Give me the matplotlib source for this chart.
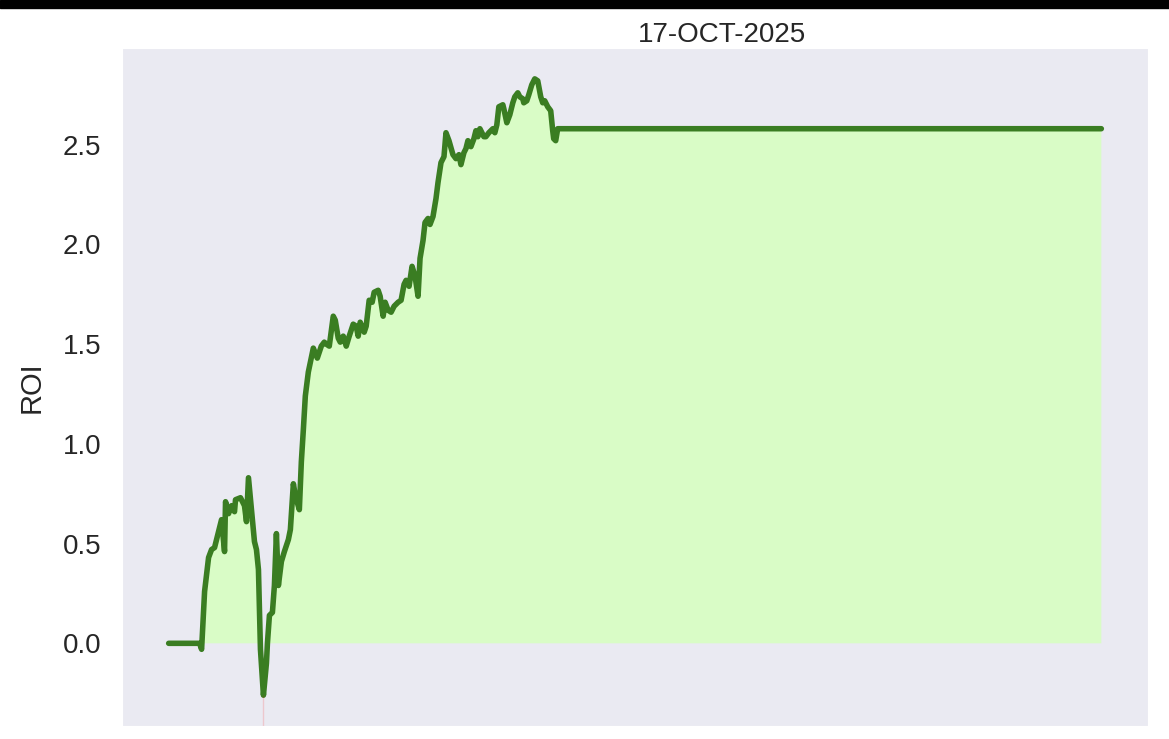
import matplotlib
matplotlib.use('Agg')
import matplotlib.pyplot as plt
import seaborn as sns
import numpy as np
from matplotlib.patches import Rectangle

title = "17-OCT-2025"

# step index of each trade and the running ROI
steps = [0, 31, 33, 35, 36, 40, 43, 46, 50, 53,
         56, 57, 60, 63, 66, 67, 72, 76, 78, 80,
         83, 86, 88, 90, 92, 95, 98, 99, 101, 104,
         106, 108, 110, 113, 116, 120, 122, 125, 127, 131,
         133, 135, 137, 140, 145, 149, 153, 156, 158, 161,
         165, 167, 170, 172, 175, 178, 181, 185, 188, 190,
         192, 196, 198, 201, 204, 206, 210, 212, 215, 217,
         220, 223, 226, 230, 233, 236, 238, 241, 244, 247,
         250, 252, 255, 257, 260, 262, 265, 268, 270, 273,
         276, 278, 281, 285, 288, 291, 293, 296, 298, 300,
         303, 306, 308, 310, 312, 316, 318, 321, 325, 327,
         329, 331, 335, 336, 339, 342, 345, 347, 350, 352,
         355, 356, 359, 361, 364, 367, 370, 373, 375, 377,
         380, 383, 385, 386, 388, 390, 935]
roi = [0.0, 0.0, -0.03, 0.17, 0.26, 0.43, 0.47, 0.48, 0.56, 0.62,
       0.46, 0.71, 0.65, 0.69, 0.66, 0.72, 0.73, 0.69, 0.61, 0.83,
       0.67, 0.51, 0.47, 0.37, -0.03, -0.26, -0.10, 0.0, 0.14, 0.155,
       0.29, 0.55, 0.29, 0.41, 0.46, 0.52, 0.57, 0.80, 0.74, 0.67,
       0.91, 1.07, 1.24, 1.36, 1.48, 1.43, 1.49, 1.51, 1.50, 1.49,
       1.64, 1.62, 1.53, 1.51, 1.54, 1.49, 1.54, 1.60, 1.59, 1.54,
       1.61, 1.56, 1.59, 1.72, 1.71, 1.76, 1.77, 1.74, 1.64, 1.71,
       1.67, 1.66, 1.69, 1.71, 1.72, 1.80, 1.82, 1.79, 1.89, 1.84,
       1.74, 1.93, 2.02, 2.11, 2.13, 2.10, 2.14, 2.23, 2.31, 2.41,
       2.44, 2.56, 2.52, 2.45, 2.43, 2.45, 2.40, 2.46, 2.48, 2.52,
       2.49, 2.53, 2.57, 2.54, 2.58, 2.54, 2.54, 2.56, 2.58, 2.56,
       2.60, 2.69, 2.70, 2.68, 2.61, 2.65, 2.71, 2.74, 2.76, 2.74,
       2.73, 2.71, 2.72, 2.75, 2.80, 2.83, 2.82, 2.74, 2.71, 2.72,
       2.69, 2.67, 2.57, 2.53, 2.52, 2.58, 2.58]

sns.set_style("dark")
plt.rcParams['font.family'] = ['Liberation Sans', 'DejaVu Sans']

x = np.array(steps)
y = np.array(roi)

fig = plt.figure(figsize=(11.69, 7.39), dpi=100)
ax = fig.add_axes([0.1044, 0.0176, 0.8776, 0.9174])

ax.fill_between(x, y, 0, where=y > 0, interpolate=True, color='#d9fcc6', lw=0)
ax.plot(x, y, color='#3a7d22', lw=4, solid_capstyle='round', solid_joinstyle='round')

# mark of the deepest drawdown
lo = ax.get_ylim()
i_min = int(np.argmin(y))
ax.vlines(x[i_min], lo[0], y[i_min], color='red', alpha=0.15, lw=1)
ax.set_ylim(lo)

ax.set_xticks([])
ax.set_ylabel("ROI", fontsize=21, labelpad=12)
ax.tick_params(axis='y', length=0, pad=15, labelsize=20)
ax.set_title(title, fontsize=20, x=0.585, pad=3)

# top border of the screenshot
fig.patches.append(Rectangle((0, 0.989), 1, 0.011, transform=fig.transFigure,
                             color='black', zorder=10))

fig.savefig("out.png", dpi=100)
